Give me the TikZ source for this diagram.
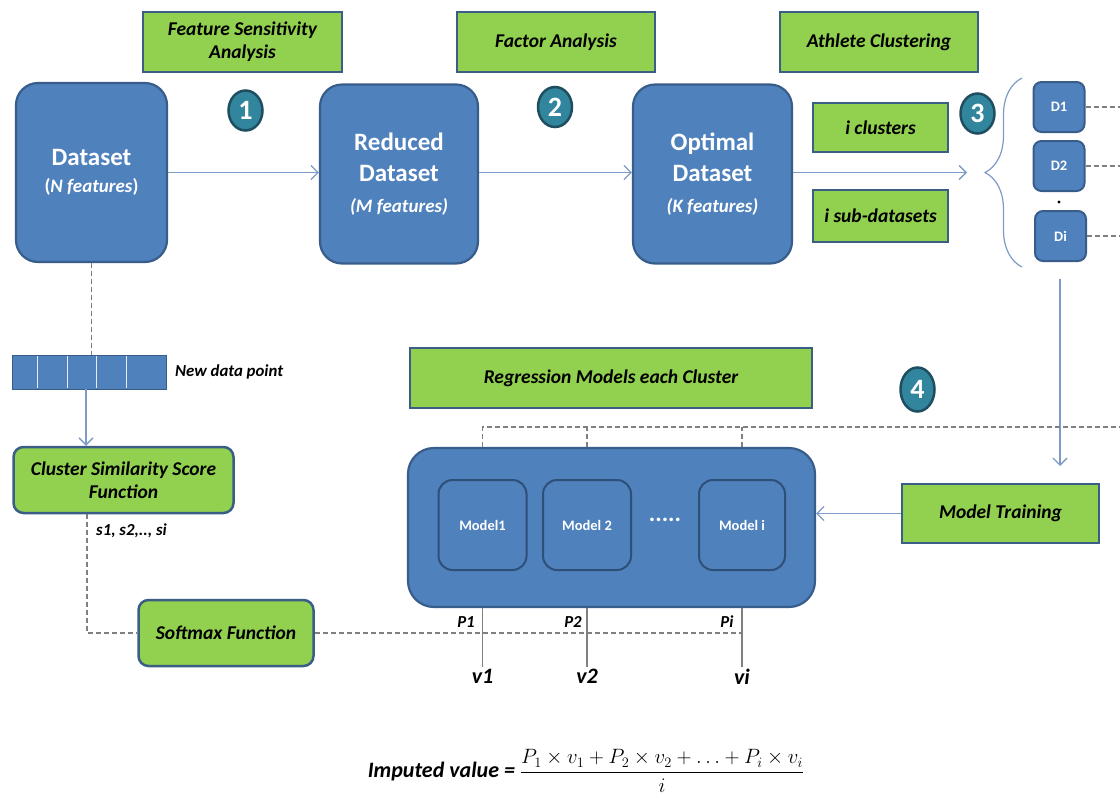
\documentclass[tikz,border=0pt]{standalone}
\usepackage{amsmath}
\usepackage{fontspec}
\setmainfont{Carlito}
\usetikzlibrary{arrows.meta,decorations.pathreplacing,shapes.geometric}
\definecolor{bfill}{HTML}{4F81BD}
\definecolor{bdraw}{HTML}{385D8A}
\definecolor{mdraw}{HTML}{2E4F78}
\definecolor{gfill}{HTML}{92D050}
\definecolor{gdraw}{HTML}{3B5E86}
\definecolor{cfill}{HTML}{31859C}
\definecolor{cdraw}{HTML}{1F4E61}
\definecolor{lcol}{HTML}{7E9BC8}
\definecolor{dcol}{HTML}{808080}
\begin{document}
\begin{tikzpicture}[x=1pt,y=-1pt,
  dsbox/.style={draw=bdraw, fill=bfill, line width=2.2pt, rounded corners=22pt, text=white, align=center, inner sep=0pt, font=\bfseries\fontsize{25}{27}\selectfont},
  gbox/.style={draw=gdraw, fill=gfill, line width=2.5pt, align=center, inner sep=0pt, font=\bfseries\itshape\fontsize{19.5}{23}\selectfont},
  num/.style={ellipse, fill=cfill, draw=cdraw, line width=2.5pt, minimum width=34pt, minimum height=40pt, inner sep=0pt, text=white, font=\bfseries\fontsize{28}{28}\selectfont},
  dbox/.style={draw=bdraw, fill=bfill, line width=2pt, rounded corners=8pt, minimum width=51pt, minimum height=50pt, inner sep=0pt, text=white, font=\bfseries\fontsize{14.5}{15}\selectfont},
  mbox/.style={draw=mdraw, fill=bfill, line width=2pt, rounded corners=14pt, minimum width=88pt, minimum height=90pt, inner sep=0pt, text=white, font=\bfseries\fontsize{14.5}{15}\selectfont},
  arr/.style={draw=lcol, line width=1.3pt, -{Straight Barb[length=7pt,width=14pt]}},
  gln/.style={draw=dcol, line width=1.1pt},
  dsh/.style={draw=dcol, line width=1.1pt, dash pattern=on 5pt off 3pt},
  lab/.style={inner sep=0pt, font=\bfseries\itshape\fontsize{16.8}{18}\selectfont},
  vlab/.style={inner sep=2pt, font=\bfseries\itshape\fontsize{22}{23}\selectfont}]
\fill[white] (0,0) rectangle (1120,796);
\useasboundingbox (0,0) rectangle (1120,796);

% top green labels and step numbers
\node[gbox, minimum width=199pt, minimum height=60pt] (fsa) at (242.5,42) {Feature Sensitivity\\Analysis};
\node[gbox, minimum width=198pt, minimum height=60pt] (fa) at (556,42) {Factor Analysis};
\node[gbox, minimum width=198pt, minimum height=60pt] (ac) at (879,42) {Athlete Clustering};
\node[num] (n1) at (245.5,110.5) {1};
\node[num] (n2) at (555,107) {2};
\node[num] (n3) at (977.5,113.5) {3};
\node[num, minimum height=44pt] (n4) at (917.5,389.5) {4};

% datasets
\node[dsbox, minimum width=151pt, minimum height=179pt] (ds) at (91.5,172.5) {Dataset\\{\fontsize{19}{20}\selectfont(\textit{N features})}};
\node[dsbox, font=\bfseries\fontsize{25}{31}\selectfont, minimum width=158pt, minimum height=179pt] (rd) at (399,174) {Reduced\\Dataset\\{\itshape\fontsize{19}{20}\selectfont(M features)}};
\node[dsbox, font=\bfseries\fontsize{25}{31}\selectfont, minimum width=159pt, minimum height=179pt] (od) at (712.5,174) {Optimal\\Dataset\\{\itshape\fontsize{19}{20}\selectfont(K features)}};
\draw[arr] (ds) -- (ds -| rd.west);
\draw[arr] (ds -| rd.east) -- (ds -| od.west);
\coordinate (oend) at (967,172.5);
\draw[arr] (ds -| od.east) -- (oend);

\node[gbox, minimum width=135pt, minimum height=49pt] (ic) at (880.5,127.5) {i clusters};
\node[gbox, minimum width=135pt, minimum height=52pt] (isd) at (880.5,216) {i sub-datasets};

% brace and sub-datasets
\draw[lcol, line width=1.2pt, decorate, decoration={brace, amplitude=37pt}] (1022,267) -- (1022,78);
\node[dbox] (d1) at (1059,107) {D1};
\node[dbox] (d2) at (1059,166) {D2};
\node[dbox] (di) at (1060.5,236) {Di};
\fill (1059,202) circle (1.6pt);
\draw[dsh] (d1.east) -- ++(40,0);
\draw[dsh] (d2.east) -- ++(40,0);
\draw[dsh] (di.east) -- ++(40,0);
\coordinate (vs) at (1060,279);
\coordinate (ve) at (1060,466);
\draw[arr] (vs) -- (ve);

% regression models
\node[gbox, minimum width=402pt, minimum height=60pt] (rm) at (611,378) {Regression Models each Cluster};
\node[draw=bdraw, fill=bfill, line width=2.2pt, rounded corners=26pt, minimum width=407pt, minimum height=159pt] (big) at (611.5,527.5) {};
\node[mbox] (m1) at (482.5,525) {Model1};
\node[mbox] (m2) at (587,525) {Model 2};
\node[mbox, minimum width=86pt] (mi) at (742,525) {Model i};
\node[text=white, font=\bfseries\fontsize{24}{24}\selectfont, inner sep=0pt] (dots) at (665,520) {.....};
\node[gbox, minimum width=197pt, minimum height=59pt] (mt) at (1000.5,513.5) {Model Training};
\draw[arr] (mt.west) -- (mt.west -| big.east);

\draw[dsh] (m1 |- big.north) -- (m1 |- 0,427) -- (1120,427);
\draw[dsh] (m2 |- big.north) -- (m2 |- 0,427);
\draw[dsh] (mi |- big.north) -- (mi |- 0,427);

\node[vlab, anchor=north] (v1) at (m1 |- 0,667) {v1};
\node[vlab, anchor=north] (v2) at (m2 |- 0,667) {v2};
\node[vlab, anchor=north] (vi) at (mi |- 0,667) {vi};
\draw[gln] (m1 |- big.south) -- (v1.north);
\draw[gln] (m2 |- big.south) -- (v2.north);
\draw[gln] (mi |- big.south) -- (vi.north);
\node[lab] (p1) at (466,622) {P1};
\node[lab] (p2) at (573,622) {P2};
\node[lab] (pi) at (727,622) {Pi};

% new data point path
\node[fill=bfill, draw=bdraw, line width=0.8pt, minimum width=154pt, minimum height=34pt, inner sep=0pt] (bar) at (89,372) {};
\foreach \x in {37,67,96,126} \draw[white!85!bfill, line width=1pt] (\x,356) -- (\x,388);
\node[lab, anchor=west] (ndp) at (175,372) {New data point};
\draw[dsh] (ds.south) -- (ds.south |- bar.north);
\node[gbox, rounded corners=10pt, minimum width=220pt, minimum height=66pt] (cs) at (123.5,480) {Cluster Similarity Score\\Function};
\draw[arr] (bar.south -| 86,0) -- (cs.north -| 86,0);
\node[lab, anchor=west] (sl) at (96,531) {s1, s2,.., si};
\node[gbox, rounded corners=10pt, minimum width=175pt, minimum height=66pt] (sm) at (226,633) {Softmax Function};
\draw[dsh] (cs.south -| 87,0) -- (87,633) -- (sm.west);
\draw[dsh] (sm.east) -- (sm.east -| mi);

% formula
\node[inner sep=0pt, font=\bfseries\itshape\fontsize{22}{26}\selectfont] (form) at (586,771)
  {Imputed value = $\dfrac{P_1 \times v_1 + P_2 \times v_2 + \ldots + P_i \times v_i}{i}$};
\end{tikzpicture}
\end{document}
